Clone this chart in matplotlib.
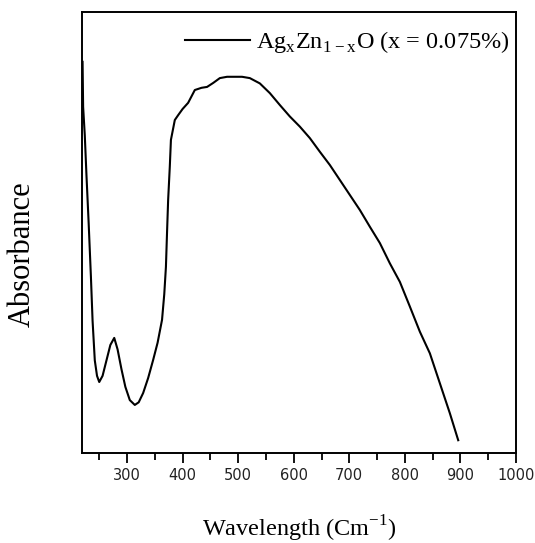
import numpy as np
import matplotlib.pyplot as plt
from matplotlib.ticker import MultipleLocator

# Datos (absorbancia en unidades arbitrarias)
longitud = [220, 221, 224, 227, 231, 235, 238, 242, 246, 250, 256, 263, 270, 277,
            283, 290, 297, 305, 314, 321, 329, 338, 347, 355, 363, 367, 370, 372,
            374, 377, 379, 386, 392, 400, 410, 422, 434, 444, 455, 467, 480, 507,
            521, 539, 557, 575, 593, 611, 629, 647, 665, 683, 701, 719, 737, 755,
            773, 791, 809, 827, 845, 863, 881, 896]
absorbancia = [0.887, 0.785, 0.72, 0.63, 0.52, 0.40, 0.30, 0.21, 0.175, 0.161,
               0.175, 0.21, 0.245, 0.261, 0.235, 0.19, 0.15, 0.12, 0.109, 0.115,
               0.136, 0.17, 0.211, 0.25, 0.302, 0.36, 0.422, 0.50, 0.574, 0.65,
               0.710, 0.755, 0.766, 0.78, 0.794, 0.823, 0.828, 0.830, 0.839, 0.850,
               0.853, 0.853, 0.850, 0.838, 0.816, 0.789, 0.763, 0.740, 0.714, 0.683,
               0.653, 0.619, 0.585, 0.551, 0.513, 0.476, 0.430, 0.388, 0.332, 0.275,
               0.226, 0.158, 0.090, 0.029]

etiqueta = r'Ag$_{\mathregular{x}}$Zn$_{\mathregular{1-x}}$O (x = 0.075%)'
ticks_x = [300, 400, 500, 600, 700, 800, 900, 1000]

fig = plt.figure(figsize=(5.35, 5.43), dpi=100)
ax = fig.add_axes([0.1533, 0.1657, 0.8112, 0.8123])

ax.plot(longitud, absorbancia, color='black', lw=1.5, label=etiqueta)

ax.set_xlim(219, 1000)
ax.set_ylim(0, 1.0)
ax.set_xticks(ticks_x)
ax.xaxis.set_minor_locator(MultipleLocator(50))
ax.tick_params(axis='x', which='major', direction='out', length=7, width=1.3,
               labelsize=10.5, labelcolor='#222222', pad=4)
ax.tick_params(axis='x', which='minor', direction='out', length=5, width=1.3)
for t in ax.get_xticklabels():
    t.set_family(['Liberation Sans Narrow', 'DejaVu Sans'])
ax.set_yticks([])
for s in ax.spines.values():
    s.set_linewidth(1.4)

serif = 'Liberation Serif'
ax.set_xlabel(r'Wavelength (Cm$^{\mathregular{-1}}$)', fontfamily=serif, fontsize=17.5)
ax.xaxis.set_label_coords(0.5, -0.138)
ax.set_ylabel('Absorbance', fontfamily=serif, fontsize=22)
ax.yaxis.set_label_coords(-0.105, 0.451)

leg = ax.legend(loc='upper right', bbox_to_anchor=(1.0, 0.975), frameon=False,
                prop={'family': serif, 'size': 17.5},
                handlelength=2.7, handletextpad=0.25, borderaxespad=0.05,
                borderpad=0.2)

fig.savefig('out.png', dpi=100)
